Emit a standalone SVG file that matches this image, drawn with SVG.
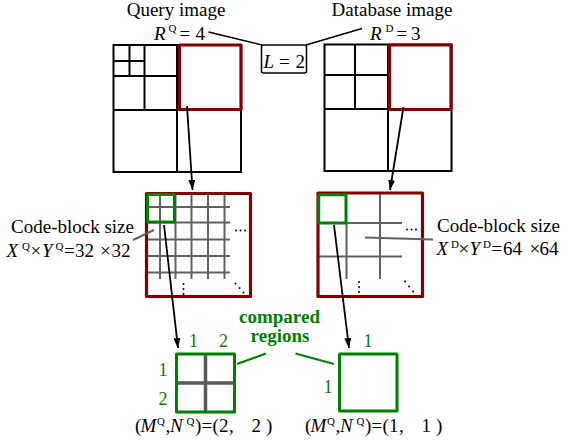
<svg xmlns="http://www.w3.org/2000/svg" width="570" height="448" viewBox="0 0 570 448">
  <defs>
    <marker id="arrow" viewBox="0 0 10 7" refX="10" refY="3.5" markerWidth="10" markerHeight="7" markerUnits="userSpaceOnUse" orient="auto">
      <path d="M0,0 L10,3.5 L0,7 z" fill="#000"/>
    </marker>
    <style>
      text { font-family: 'Liberation Serif', serif; }
      .lbl { font-size: 19px; fill: #000; }
      .it { font-style: italic; }
      .sup { font-size: 11px; }
      .grn { fill: #008000; font-size: 18px; }
      .bold { font-weight: bold; fill: #008000; font-size: 19px; }
      .blk { fill: none; stroke: #000; stroke-width: 2; }
      .red { fill: none; stroke: #800000; stroke-width: 3.2; stroke-linejoin: round; }
      .gbox { fill: none; stroke: #008000; stroke-width: 3; stroke-linejoin: round; }
      .grid { stroke: #616161; stroke-width: 2; fill: none; }
      .cross { stroke: #5a5a5a; stroke-width: 3.5; fill: none; }
      .lead { stroke: #000; stroke-width: 1.5; fill: none; }
      .glead { stroke: #616161; stroke-width: 2; fill: none; }
      .gnlead { stroke: #008000; stroke-width: 2; fill: none; }
      .arr { stroke: #000; stroke-width: 1.8; fill: none; marker-end: url(#arrow); }
      .dot { fill: #000; }
    </style>
  </defs>

  <!-- Query image: 4 resolution levels -->
  <g id="query-image">
    <text class="lbl" x="176" y="16" text-anchor="middle">Query image</text>
    <text class="lbl"><tspan class="it" x="154" y="39.5">R</tspan><tspan class="sup" x="168.5" y="32">Q</tspan><tspan x="179.5" y="39.5">=</tspan><tspan x="195.5" y="39.5">4</tspan></text>
    <rect class="blk" x="113.5" y="45" width="127.5" height="127"/>
    <path class="blk" d="M177,45 V172 M113.5,110 H241 M144.5,45 V110 M113.5,76 H177 M129.5,45 V76 M113.5,61 H144.5"/>
    <rect class="red" x="179.5" y="45" width="61.5" height="64.5"/>
  </g>

  <!-- Database image: 3 resolution levels -->
  <g id="database-image">
    <text class="lbl" x="392" y="16" text-anchor="middle">Database image</text>
    <text class="lbl"><tspan class="it" x="370" y="39.5">R</tspan><tspan class="sup" x="385.5" y="32">D</tspan><tspan x="396.5" y="39.5">=</tspan><tspan x="411" y="39.5">3</tspan></text>
    <rect class="blk" x="324.5" y="44.5" width="127" height="126.5"/>
    <path class="blk" d="M388,44.5 V171 M324.5,109 H451.5 M355,44.5 V109 M324.5,75 H388"/>
    <rect class="red" x="389.5" y="45" width="61.5" height="64.5"/>
  </g>

  <!-- Number of decomposition levels -->
  <g id="levels">
    <rect x="261.5" y="45" width="45" height="28" rx="2" fill="#fff" stroke="#000" stroke-width="1.5"/>
    <text class="lbl"><tspan class="it" x="263.5" y="68">L</tspan><tspan x="279" y="68">=</tspan><tspan x="295.5" y="68">2</tspan></text>
  </g>

  <!-- Query subband with 32x32 code-blocks -->
  <g id="query-subband">
    <path class="grid" d="M160,193 V279 M175.5,193 V279 M191.5,193 V279 M208,193 V279 M224.5,193 V279
                          M147,207 H230 M147,222.5 H230 M147,239.5 H230 M147,256 H230 M147,272.5 H230"/>
    <rect class="red" x="146.5" y="193.5" width="104" height="103"/>
    <rect class="gbox" x="147.5" y="194.5" width="27" height="27.5"/>
    <circle class="dot" cx="236" cy="230.5" r="1"/><circle class="dot" cx="240.5" cy="230.5" r="1"/><circle class="dot" cx="245" cy="230.5" r="1"/>
    <circle class="dot" cx="183.5" cy="284" r="1"/><circle class="dot" cx="183.5" cy="289" r="1"/><circle class="dot" cx="183.5" cy="294" r="1"/>
    <circle class="dot" cx="235.5" cy="283.5" r="1"/><circle class="dot" cx="239.5" cy="288" r="1"/><circle class="dot" cx="243.5" cy="292.5" r="1"/>
  </g>

  <!-- Database subband with 64x64 code-blocks -->
  <g id="database-subband">
    <path class="grid" d="M346.5,223 V279 M380,193 V279 M346,223 H402 M318,256.5 H402"/>
    <rect class="red" x="318" y="193" width="104.5" height="103.5"/>
    <rect class="gbox" x="318.7" y="194.7" width="27.3" height="28.3"/>
    <circle class="dot" cx="407" cy="229.5" r="1"/><circle class="dot" cx="411.5" cy="229.5" r="1"/><circle class="dot" cx="416" cy="229.5" r="1"/>
    <circle class="dot" cx="359" cy="282" r="1"/><circle class="dot" cx="359" cy="287" r="1"/><circle class="dot" cx="359" cy="292" r="1"/>
    <circle class="dot" cx="405" cy="281.5" r="1"/><circle class="dot" cx="409" cy="286.5" r="1"/><circle class="dot" cx="413" cy="291.5" r="1"/>
  </g>

  <!-- Code-block size labels -->
  <g id="query-codeblock-label">
    <text class="lbl" x="72.5" y="233" text-anchor="middle">Code-block size</text>
    <text class="lbl"><tspan class="it" x="6.5" y="257">X</tspan><tspan class="sup" x="22" y="249.5">Q</tspan><tspan x="30.5" y="257">×</tspan><tspan class="it" x="42" y="257">Y</tspan><tspan class="sup" x="55.5" y="249.5">Q</tspan><tspan x="64" y="257">=</tspan><tspan x="75" y="257">32</tspan><tspan x="100" y="257">×</tspan><tspan x="111.5" y="257">32</tspan></text>
  </g>
  <g id="database-codeblock-label">
    <text class="lbl" x="498.5" y="231.5" text-anchor="middle">Code-block size</text>
    <text class="lbl"><tspan class="it" x="436.5" y="255">X</tspan><tspan class="sup" x="451" y="247.5">D</tspan><tspan x="458.5" y="255">×</tspan><tspan class="it" x="469.5" y="255">Y</tspan><tspan class="sup" x="483" y="247.5">D</tspan><tspan x="491.5" y="255">=</tspan><tspan x="503" y="255">64</tspan><tspan x="529.5" y="255">×</tspan><tspan x="539.5" y="255">64</tspan></text>
  </g>

  <!-- Compared regions -->
  <g id="query-region">
    <path class="cross" d="M205.5,354 V412 M176.5,383 H234.5"/>
    <rect class="gbox" x="176.5" y="354" width="58" height="58"/>
    <text class="grn" x="189" y="346.5">1</text>
    <text class="grn" x="219" y="346.5">2</text>
    <text class="grn" x="158.5" y="375.5">1</text>
    <text class="grn" x="158.5" y="405">2</text>
    <text class="lbl"><tspan x="135" y="432">(</tspan><tspan class="it" x="140.5" y="432">M</tspan><tspan class="sup" x="157" y="424.5">Q</tspan><tspan x="165.5" y="432">,</tspan><tspan class="it" x="170" y="432">N</tspan><tspan class="sup" x="186.5" y="424.5">Q</tspan><tspan x="195" y="432">)</tspan><tspan x="201.5" y="432">=</tspan><tspan x="212.5" y="432">(</tspan><tspan x="219" y="432">2</tspan><tspan x="229" y="432">,</tspan><tspan x="251.5" y="432">2</tspan><tspan x="266" y="432">)</tspan></text>
  </g>
  <g id="database-region">
    <rect class="gbox" x="339.5" y="354" width="57.5" height="57"/>
    <text class="grn" x="363.5" y="347">1</text>
    <text class="grn" x="323.5" y="393">1</text>
    <text class="lbl"><tspan x="305" y="432">(</tspan><tspan class="it" x="310.5" y="432">M</tspan><tspan class="sup" x="327" y="424.5">Q</tspan><tspan x="335.5" y="432">,</tspan><tspan class="it" x="340" y="432">N</tspan><tspan class="sup" x="356.5" y="424.5">Q</tspan><tspan x="365" y="432">)</tspan><tspan x="371.5" y="432">=</tspan><tspan x="382.5" y="432">(</tspan><tspan x="389" y="432">1</tspan><tspan x="399" y="432">,</tspan><tspan x="421.5" y="432">1</tspan><tspan x="436" y="432">)</tspan></text>
  </g>
  <g id="compared-label">
    <text class="bold" x="279.5" y="322.5" text-anchor="middle">compared</text>
    <text class="bold" x="280" y="341.5" text-anchor="middle">regions</text>
  </g>

  <!-- Connectors -->
  <g id="connectors">
    <path class="lead" d="M208.5,32 L262,45"/>
    <path class="lead" d="M306,45 L362,28.5"/>
    <path class="glead" d="M133,240 L154,230"/>
    <path class="glead" d="M365,237.5 L433,239.5"/>
    <path class="gnlead" d="M237,364 L266,353.5"/>
    <path class="gnlead" d="M295.5,353.5 L334,364"/>
    <path class="arr" d="M187,106 L192.5,190"/>
    <path class="arr" d="M403.5,107 L390,190"/>
    <path class="arr" d="M164,225 L178,348"/>
    <path class="arr" d="M334,225 L349,348"/>
  </g>
</svg>
